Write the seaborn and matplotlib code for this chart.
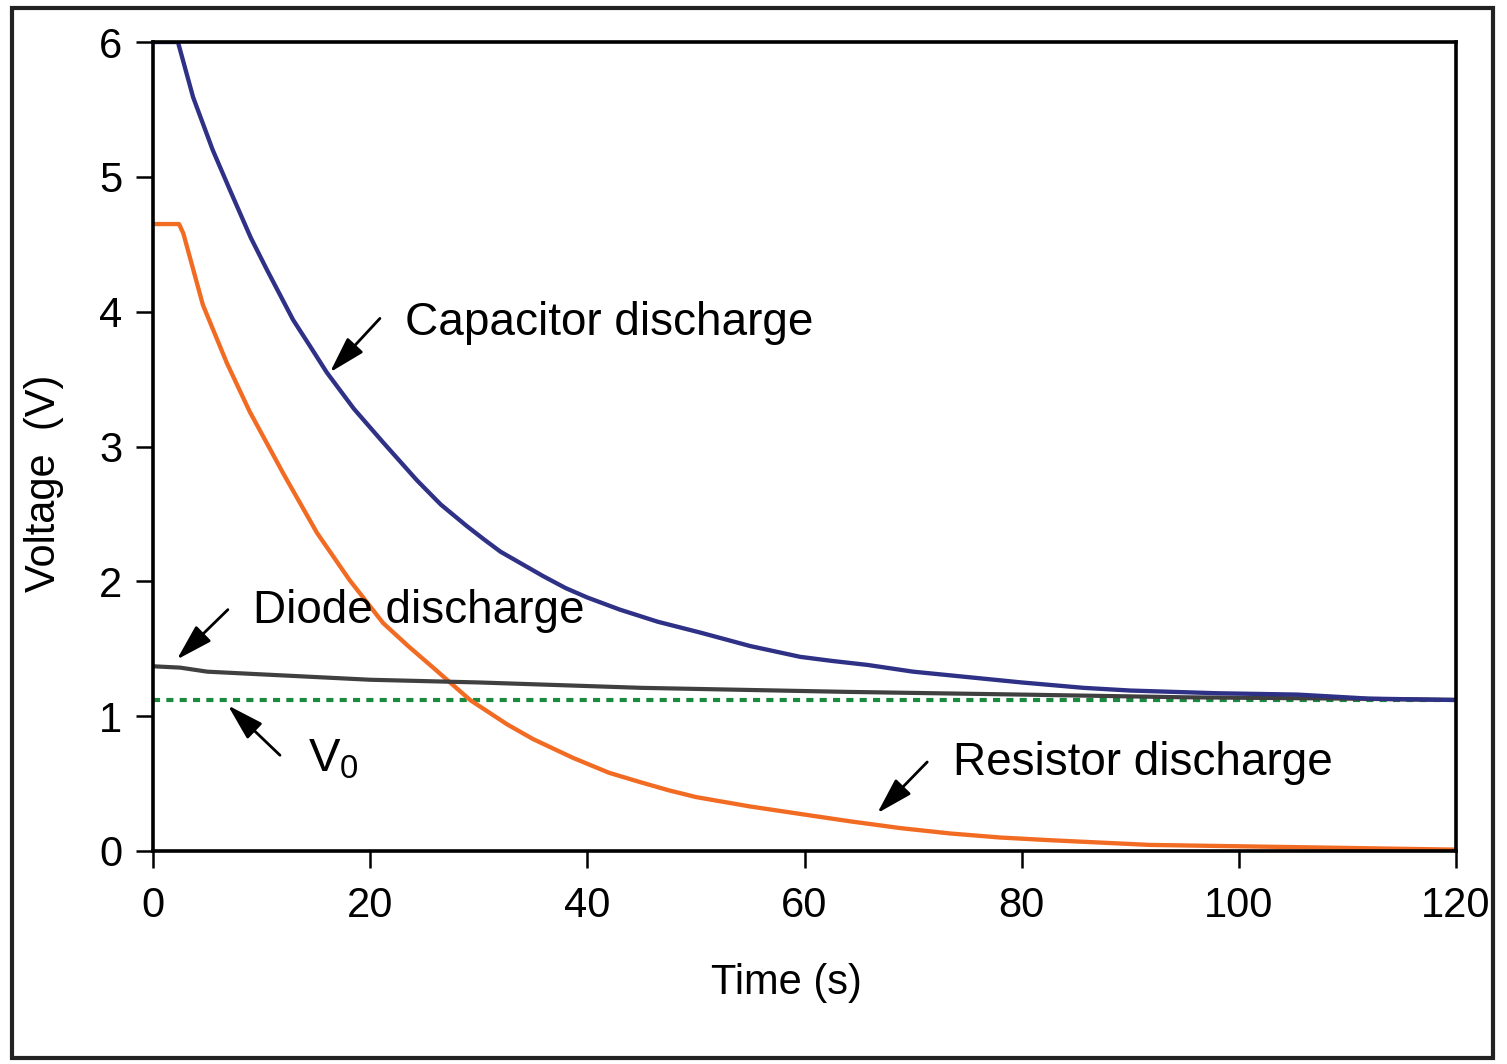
import matplotlib
matplotlib.use('Agg')
import matplotlib.pyplot as plt
from matplotlib.patches import Rectangle
import seaborn as sns

# values (time in s, voltage in V)
cap_t = [0, 2.3, 3.7, 5.5, 7.1, 9, 10.5, 12.9, 14.5, 16.0, 18.5, 21.2, 24.3, 26.5, 28.9,
         30.5, 32.0, 35.9, 38, 40, 43.0, 46.5, 50.4, 55, 59.6, 62.5, 65.8, 70, 75.0, 80,
         85.7, 90, 98.0, 105.4, 112, 120]
cap_v = [6.0, 6.0, 5.59, 5.2, 4.90, 4.55, 4.31, 3.94, 3.74, 3.55, 3.28, 3.03, 2.75, 2.57, 2.41,
         2.31, 2.22, 2.04, 1.95, 1.88, 1.79, 1.70, 1.62, 1.52, 1.44, 1.41, 1.38, 1.33, 1.29, 1.25,
         1.21, 1.19, 1.17, 1.16, 1.13, 1.12]

res_t = [0, 2.4, 2.8, 4.6, 6.8, 8.9, 12.0, 15.1, 18.1, 21.2, 23.5, 25.8, 27.5, 29.2, 32.6,
         35, 38.7, 42, 44.9, 47.5, 50, 55, 60, 64.2, 68.8, 73.4, 78, 82.6, 91.8, 104, 112, 120]
res_v = [4.65, 4.65, 4.58, 4.05, 3.62, 3.26, 2.80, 2.36, 2.01, 1.69, 1.52, 1.36, 1.24, 1.12, 0.94,
         0.83, 0.69, 0.58, 0.51, 0.45, 0.40, 0.33, 0.27, 0.22, 0.17, 0.13, 0.10, 0.08, 0.045, 0.03, 0.02, 0.01]

dio_t = [0, 2.5, 5, 10, 15, 20, 30, 45, 64, 80, 95, 110, 120]
dio_v = [1.37, 1.36, 1.33, 1.31, 1.29, 1.27, 1.25, 1.21, 1.18, 1.16, 1.14, 1.13, 1.12]

v0_t = [0, 120]
v0_v = [1.12, 1.12]

x_ticks = [0, 20, 40, 60, 80, 100, 120]
y_ticks = [0, 1, 2, 3, 4, 5, 6]

sns.set_style('white')
plt.rcParams['font.family'] = ['Liberation Sans', 'DejaVu Sans']
plt.rcParams['mathtext.fontset'] = 'custom'
plt.rcParams['mathtext.rm'] = 'Liberation Sans'
plt.rcParams['text.color'] = 'black'
plt.rcParams['axes.labelcolor'] = 'black'

fig = plt.figure(figsize=(15.07, 10.64), dpi=100)
ax = fig.add_axes([0.1015, 0.2002, 0.8647, 0.7603])

sns.lineplot(x=v0_t, y=v0_v, ax=ax, color='#1a8a3f', linewidth=3,
             linestyle=(0, (1.7, 1.5)))
sns.lineplot(x=res_t, y=res_v, ax=ax, color='#f26b23', linewidth=3.1)
sns.lineplot(x=dio_t, y=dio_v, ax=ax, color='#404040', linewidth=3)
sns.lineplot(x=cap_t, y=cap_v, ax=ax, color='#2e3186', linewidth=3.1)

ax.set_xlim(0, 120)
ax.set_ylim(0, 6)
ax.set_xticks(x_ticks)
ax.set_yticks(y_ticks)
ax.tick_params(axis='both', direction='out', length=12, width=1.8, colors='black',
               labelsize=30, left=True, bottom=True)
ax.tick_params(axis='x', pad=13)
ax.tick_params(axis='y', pad=10)
for s in ax.spines.values():
    s.set_color('black')
    s.set_linewidth(2.6)

ax.set_xlabel('Time (s)', fontsize=30)
ax.set_ylabel('Voltage  (V)', fontsize=30)
ax.xaxis.set_label_coords(0.486, -0.138)
ax.yaxis.set_label_coords(-0.068, 0.455)

arrow = dict(arrowstyle='-|>,head_length=0.75,head_width=0.22', color='black', lw=2,
             mutation_scale=30, shrinkA=0, shrinkB=0)
ax.text(23.2, 3.83, 'Capacitor discharge', fontsize=33, ha='left', va='baseline')
ax.annotate('', xy=(16.3, 3.55), xytext=(20.9, 3.95), arrowprops=arrow)

ax.text(9.2, 1.69, 'Diode discharge', fontsize=33, ha='left', va='baseline')
ax.annotate('', xy=(2.2, 1.42), xytext=(6.9, 1.79), arrowprops=arrow)

ax.text(14.3, 0.59, r'$\mathregular{V_0}$', fontsize=34, ha='left', va='baseline')
ax.annotate('', xy=(6.9, 1.08), xytext=(11.7, 0.71), arrowprops=arrow)

ax.text(73.7, 0.56, 'Resistor discharge', fontsize=33, ha='left', va='baseline')
ax.annotate('', xy=(66.7, 0.28), xytext=(71.3, 0.66), arrowprops=arrow)

# outer frame around the whole figure
fig.patches.append(Rectangle((0.008, 0.006), 0.983, 0.9865, transform=fig.transFigure,
                             fill=False, edgecolor='#222222', linewidth=3))

fig.savefig('out.png', dpi=100)
